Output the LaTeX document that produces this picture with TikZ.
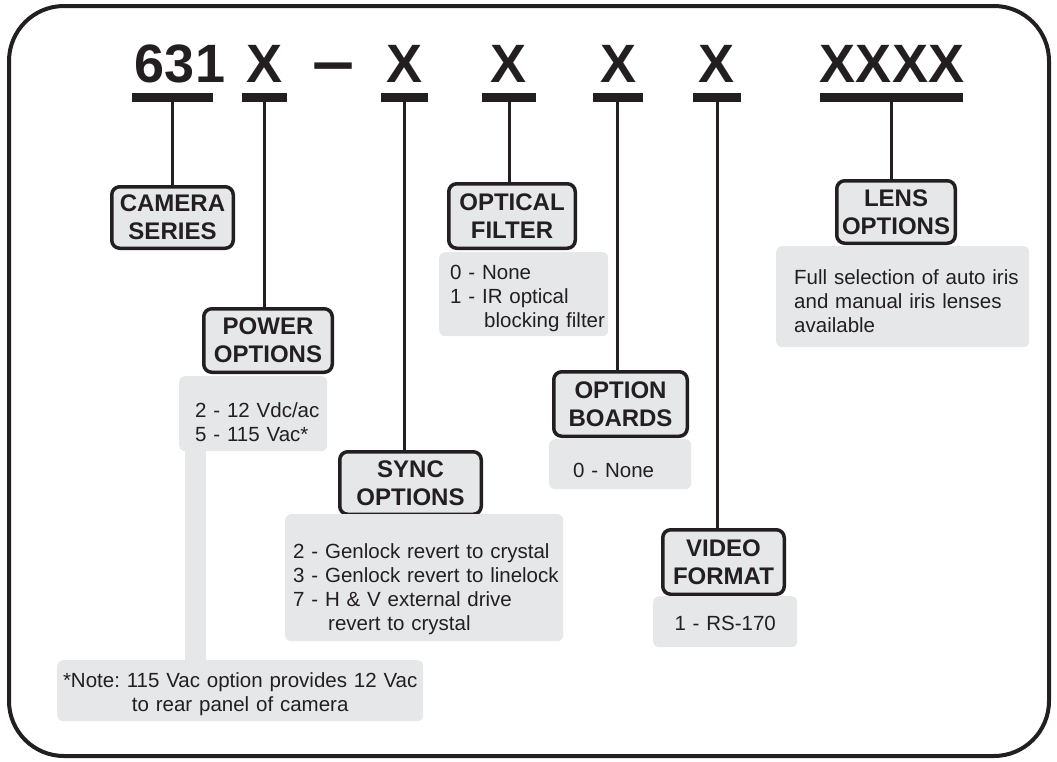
\documentclass[tikz,border=0pt]{standalone}
\usepackage{fontspec}
\setmainfont{Liberation Sans}
\usetikzlibrary{positioning}
\definecolor{inkGray}{HTML}{231F20}
\definecolor{boxGray}{HTML}{E6E7E8}
\newcommand{\padtop}[1]{\rule{0pt}{#1pt}}
\newcommand{\padbot}[1]{\rule[-#1pt]{0pt}{#1pt}\par}
\begin{document}
\begin{tikzpicture}[
            x=1pt, y=-1pt,
            codeTxt/.style={font=\fontsize{54}{60}\selectfont\bfseries, text=inkGray,
            inner sep=0pt, anchor=base},
            codeBar/.style={rectangle, fill=inkGray, minimum height=8.5pt, inner sep=0pt},
            lblBox/.style={rectangle, draw=inkGray, fill=boxGray, line width=3.5pt,
            rounded corners=8pt, inner sep=0pt, align=center, text=inkGray,
            font=\fontsize{24}{28}\selectfont\bfseries},
            descBox/.style={rectangle, fill=boxGray, rounded corners=6pt, anchor=north west,
            inner xsep=4pt, inner ysep=0pt, align=left, text=inkGray,
            font=\fontsize{20.5}{24}\selectfont\frenchspacing},
            link/.style={draw=inkGray, line width=3pt},
            noteLink/.style={draw=boxGray, line width=21pt},
        ]
        \useasboundingbox (0,0) rectangle (1057,761);
        \draw[inkGray, line width=4pt, rounded corners=55pt] (9,6) rectangle (1049,756);
        % part number
        \node[codeTxt] (c631)  at (180,82)   {631};
        \node[codeTxt] (cX1)   at (264.5,82) {X};
        \node[codeTxt] (cDash) at (334,83)   {\scalebox{1.4}[1.2]{\textendash}};
        \node[codeTxt] (cX2)   at (404.5,82) {X};
        \node[codeTxt] (cX3)   at (509,82)   {X};
        \node[codeTxt] (cX4)   at (618.5,82) {X};
        \node[codeTxt] (cX5)   at (716.5,82) {X};
        \node[codeTxt] (cLens) at (892,82)   {XXXX};
        \node[codeBar, minimum width=81pt]  (bar631)  at (172.5,97.5) {};
        \node[codeBar, minimum width=45pt]  (barX1)   at (264.5,97.5) {};
        \node[codeBar, minimum width=47pt]  (barX2)   at (404,97.5)   {};
        \node[codeBar, minimum width=54pt]  (barX3)   at (509,97.5)   {};
        \node[codeBar, minimum width=50pt]  (barX4)   at (617.5,97.5) {};
        \node[codeBar, minimum width=48pt]  (barX5)   at (717,97.5)   {};
        \node[codeBar, minimum width=143pt] (barLens) at (891,97.5)   {};
        % labels
            \path (bar631) ++(0,120) node[lblBox, minimum width=121.5pt, minimum height=61.5pt] (camLbl) {CAMERA\\SERIES};
            \path (barX1) ++(3.5,243) node[lblBox, minimum width=128.5pt, minimum height=63.5pt] (pwrLbl) {POWER\\OPTIONS};
            \path (barX2) ++(6.5,385.5) node[lblBox, minimum width=141.5pt, minimum height=62.5pt] (syncLbl) {SYNC\\OPTIONS};
            \path (barX3) ++(3,118.5) node[lblBox, minimum width=126.5pt, minimum height=64.5pt] (optLbl) {OPTICAL\\FILTER};
            \path (barX4) ++(3,306.5) node[lblBox, minimum width=133.5pt, minimum height=64.5pt] (brdLbl) {OPTION\\BOARDS};
            \path (barX5) ++(6.5,464.5) node[lblBox, minimum width=121.5pt, minimum height=64.5pt] (vidLbl) {VIDEO\\FORMAT};
            \path (barLens) ++(5,114.5) node[lblBox, minimum width=118.5pt, minimum height=62.5pt] (lensLbl) {LENS\\OPTIONS};
        \draw[link] (bar631.south) -- (bar631.south |- camLbl.north);
        \draw[link] (barX1.south) -- (barX1.south |- pwrLbl.north);
        \draw[link] (barX2.south) -- (barX2.south |- syncLbl.north);
        \draw[link] (barX3.south) -- (barX3.south |- optLbl.north);
        \draw[link] (barX4.south) -- (barX4.south |- brdLbl.north);
        \draw[link] (barX5.south) -- (barX5.south |- vidLbl.north);
        \draw[link] (barLens.south) -- (barLens.south |- lensLbl.north);
        % option lists
        \node[descBox, text width=163pt, inner xsep=3pt] (optDesc) at (439,252)
            {\leftskip=8pt\relax\padtop{27}0 - None\\1 - IR optical\\\hspace*{34pt}blocking filter\padbot{9}};
        \node[descBox, text width=140pt] (pwrDesc) at (179,376)
            {\leftskip=12pt\relax\padtop{41}2 - 12 Vdc/ac\\5 - 115 Vac*\padbot{10}};
        \node[descBox, text width=270pt] (syncDesc) at (285,514)
            {\leftskip=4pt\relax\padtop{44}2 - Genlock revert to crystal\\3 - Genlock revert to linelock\\7 - H \& V external drive\\\hspace*{35pt}revert to crystal\padbot{11}};
        \node[descBox, text width=134pt] (brdDesc) at (549,439)
            {\leftskip=20pt\relax\padtop{38}0 - None\padbot{12}};
        \node[descBox, text width=136pt, align=center] (vidDesc) at (653,596)
            {\padtop{34}1 - RS-170\padbot{17}};
        \node[descBox, text width=245pt] (lensDesc) at (776,246)
            {\leftskip=14pt\relax\padtop{38}Full selection of auto iris\\and manual iris lenses\\available\padbot{15}};
        \node[descBox, text width=358pt, align=center] (noteDesc) at (57,660)
            {\padtop{27}*Note: 115 Vac option provides 12 Vac\\to rear panel of camera\padbot{10}};
        \draw[noteLink] ([xshift=16.5pt]pwrDesc.south west) coordinate (noteTap) -- (noteTap |- noteDesc.north);
    \end{tikzpicture}
\end{document}
